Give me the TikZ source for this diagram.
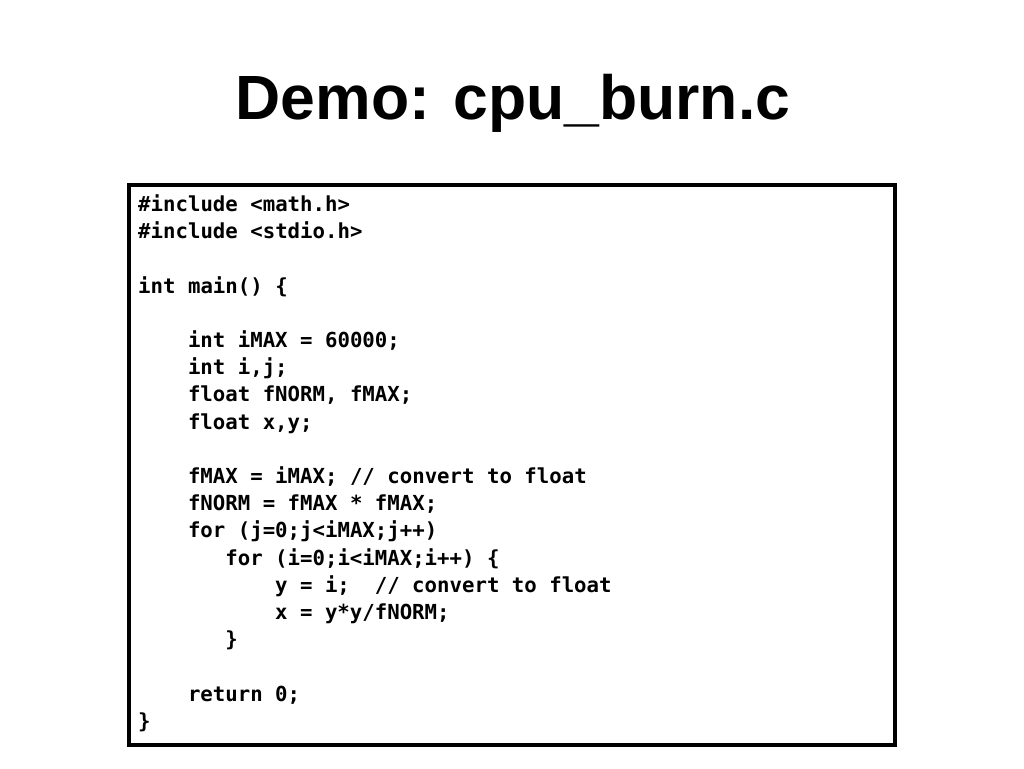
\documentclass[tikz,border=0pt]{standalone}
\usepackage{fontspec}
\setmainfont{Liberation Sans}
\setmonofont{DejaVu Sans Mono}
\usetikzlibrary{positioning}

\begin{document}
\begin{tikzpicture}[
        x=1pt, y=-1pt,
        title/.style={font=\fontsize{62.5}{70}\selectfont\bfseries, anchor=base, inner sep=0pt},
        code/.style={font=\fontsize{20.7}{27.2}\selectfont\ttfamily\bfseries, anchor=base west, inner sep=0pt},
        frame/.style={draw=black, line width=4pt}
    ]
    \useasboundingbox (0,0) rectangle (1024,768);

    % Title
    \node[title] (head) at (513,119) {Demo: cpu\_burn.c};

    % Code box
    \draw[frame] (128.5,184.5) rectangle (895,745);

    % Code lines
    \node[code] (inc1)  at (138,211.5) {\#include <math.h>};
    \node[code] (inc2)  at (138,238.7) {\#include <stdio.h>};
    \node[code] (main)  at (138,293.1) {int main() \{};
    \node[code] (dimax) at (187.8,347.5) {int iMAX = 60000;};
    \node[code] (dij)   at (187.8,374.7) {int i,j;};
    \node[code] (dnorm) at (187.8,401.9) {float fNORM, fMAX;};
    \node[code] (dxy)   at (187.8,429.1) {float x,y;};
    \node[code] (cmax)  at (187.8,483.5) {fMAX = iMAX; // convert to float};
    \node[code] (cnorm) at (187.8,510.7) {fNORM = fMAX * fMAX;};
    \node[code] (forj)  at (187.8,537.9) {for (j=0;j<iMAX;j++)};
    \node[code] (fori)  at (225.15,565.1) {for (i=0;i<iMAX;i++) \{};
    \node[code] (sety)  at (274.95,592.3) {y = i;~ // convert to float};
    \node[code] (setx)  at (274.95,619.5) {x = y*y/fNORM;};
    \node[code] (endi)  at (225.15,646.7) {\}};
    \node[code] (ret)   at (187.8,701.1) {return 0;};
    \node[code] (endm)  at (138,728.3) {\}};

\end{tikzpicture}
\end{document}
